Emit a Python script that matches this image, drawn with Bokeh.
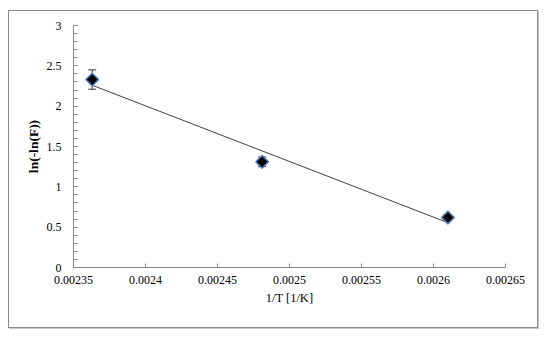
import numpy as np
from bokeh.plotting import figure
from bokeh.models import (ColumnDataSource, Whisker, TeeHead, FixedTicker,
                          CustomJSTickFormatter, Range1d)
from bokeh.embed import file_html
from bokeh.resources import INLINE

# Data
inv_T = [0.002363, 0.002481, 0.002610]
ln_ln_F = [2.33, 1.31, 0.62]
err = [0.12, 0.06, 0.03]
x_ticks = [0.00235, 0.0024, 0.00245, 0.0025, 0.00255, 0.0026, 0.00265]
y_ticks = [0, 0.5, 1, 1.5, 2, 2.5, 3]
y_minor = [round(i * 0.1, 1) for i in range(31)]

slope, intercept = np.polyfit(inv_T, ln_ln_F, 1)
fit_x = [min(inv_T), max(inv_T)]
fit_y = [slope * v + intercept for v in fit_x]

src = ColumnDataSource(dict(
    x=inv_T, y=ln_ln_F,
    upper=[a + b for a, b in zip(ln_ln_F, err)],
    lower=[a - b for a, b in zip(ln_ln_F, err)],
))

p = figure(width=530, height=318, output_backend="svg", toolbar_location=None,
           x_range=Range1d(0.00235, 0.00265), y_range=Range1d(0, 3),
           min_border_left=64, min_border_right=34, min_border_top=14,
           min_border_bottom=62)
p.styles = {"border": "1px solid #8a8a8a", "box-shadow": "1px 1px 0px #c8c8c8",
            "margin": "10px 0px 0px 8px"}
p.outline_line_color = None
p.xgrid.visible = False
p.ygrid.visible = False

p.line(fit_x, fit_y, line_color="#404040", line_width=1)

wh = Whisker(source=src, base="x", upper="upper", lower="lower",
             line_color="#333333", line_width=1,
             upper_head=TeeHead(size=8, line_color="#333333", line_width=1),
             lower_head=TeeHead(size=8, line_color="#333333", line_width=1))
p.add_layout(wh)

p.scatter("x", "y", source=src, marker="square", angle=np.pi / 4, size=9,
          fill_color="black", line_color="#4F81BD", line_width=1.5)

fmt = CustomJSTickFormatter(code="return parseFloat(tick.toFixed(6)).toString();")

xa = p.xaxis[0]
xa.ticker = FixedTicker(ticks=x_ticks)
xa.formatter = fmt
xa.axis_label = "1/T [1/K]"
xa.axis_label_text_font = "Liberation Serif"
xa.axis_label_text_font_style = "normal"
xa.axis_label_text_font_size = "12.5px"
xa.axis_label_text_color = "black"
xa.axis_label_standoff = 4
xa.major_label_text_font = "Liberation Serif"
xa.major_label_text_font_size = "12px"
xa.major_label_text_color = "black"
xa.major_label_standoff = 8
xa.axis_line_color = "#8a8a8a"
xa.major_tick_line_color = "#8a8a8a"
xa.major_tick_in = 4
xa.major_tick_out = 0
xa.minor_tick_line_color = None

ya = p.yaxis[0]
ya.ticker = FixedTicker(ticks=y_ticks, minor_ticks=y_minor)
ya.formatter = fmt
ya.axis_label = "ln(-ln(F))"
ya.axis_label_text_font = "Liberation Serif"
ya.axis_label_text_font_style = "bold"
ya.axis_label_text_font_size = "13.5px"
ya.axis_label_text_color = "black"
ya.axis_label_standoff = 3
ya.major_label_text_font = "Liberation Serif"
ya.major_label_text_font_size = "12px"
ya.major_label_text_color = "black"
ya.major_label_standoff = 12
ya.axis_line_color = "#8a8a8a"
ya.major_tick_line_color = "#8a8a8a"
ya.major_tick_in = 4
ya.major_tick_out = 0
ya.minor_tick_line_color = "#8a8a8a"
ya.minor_tick_in = 4
ya.minor_tick_out = 0

open("out.html", "w").write(file_html(p, INLINE))
